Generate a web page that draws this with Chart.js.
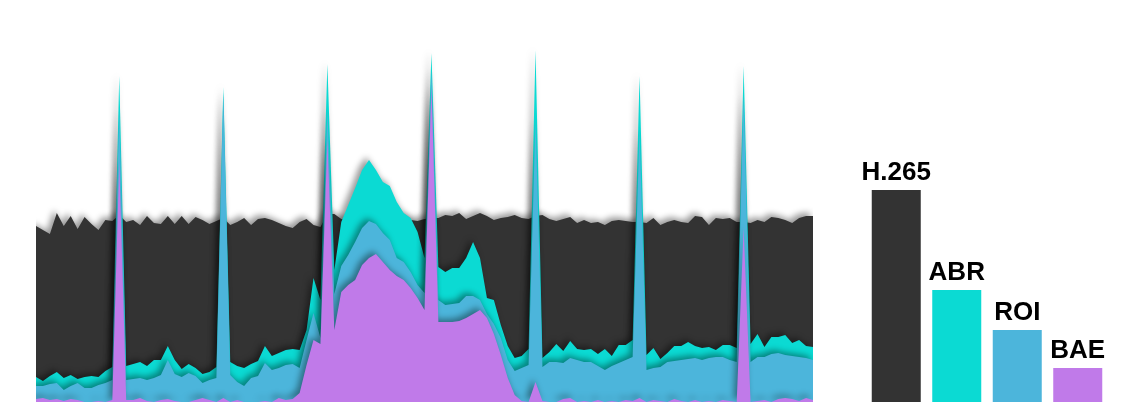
<!DOCTYPE html>
<html>
<head>
<meta charset="utf-8">
<script src="https://cdn.jsdelivr.net/npm/chart.js@4.4.0/dist/chart.umd.min.js"></script>
<style>
  body { margin: 0; background: #fff; }
  #wrap { position: relative; width: 1126px; height: 402px; overflow: hidden; }
  #area-box { position: absolute; left: 0; top: 0; }
  #bar-box { position: absolute; left: 846px; top: 0; }
</style>
</head>
<body>
<div id="wrap">
  <div id="area-box"><canvas id="area-chart" width="830" height="402"></canvas></div>
  <div id="bar-box"><canvas id="bar-chart" width="282" height="402"></canvas></div>
</div>
<script>
// frame-by-frame bits (arbitrary units), one value per frame
let frames = [];
for (let i = 0; i < 113; i++) frames.push(i);

let h265 = [176,172,168,189,176,186,173,185,178,172,
            182,181,187,180,182,177,186,179,178,186,
            178,186,178,185,182,178,181,184,177,180,
            184,177,183,184,182,179,176,174,180,183,
            177,175,188,188,183,182,184,182,185,183,
            181,184,182,183,182,181,183,184,184,187,
            186,189,183,186,189,186,182,184,185,187,
            184,183,186,187,183,181,183,185,179,182,
            179,180,177,181,182,181,180,180,179,184,
            177,180,182,180,179,186,185,177,184,183,
            184,180,180,179,182,180,185,184,182,179,
            184,186,186];
let abr = [25,21,26,30,24,27,23,25,26,25,
           31,35,326,36,38,40,36,42,42,56,
           42,33,38,34,28,30,35,315,40,36,
           34,38,41,56,46,49,52,53,52,72,
           124,102,338,132,180,197,214,232,242,232,
           220,216,200,189,184,170,144,349,135,130,
           134,134,144,160,144,104,102,77,56,44,
           46,53,352,44,50,58,51,61,53,52,
           53,48,53,46,57,57,62,326,47,54,
           43,49,56,56,60,56,54,55,52,57,
           57,54,336,58,68,55,65,65,67,59,
           62,56,55];
let roi = [16,16,18,19,12,16,19,14,14,17,
           19,22,292,22,23,24,22,24,27,42,
           28,25,29,26,19,22,24,309,27,20,
           16,24,26,39,32,34,37,38,34,62,
           89,64,292,108,136,147,160,174,181,178,
           169,162,144,140,130,117,109,332,102,97,
           98,99,106,106,102,88,78,64,42,31,
           34,37,282,35,40,40,39,44,42,40,
           40,36,32,36,39,42,45,272,32,34,
           35,40,41,42,43,44,42,44,45,45,
           42,40,307,40,45,45,48,49,47,46,
           45,44,42];
let bae = [3,4,2,3,1,3,2,0,0,1,
           0,2,240,2,2,4,1,0,2,3,
           1,0,0,2,4,2,0,4,0,2,
           0,0,0,1,0,4,2,3,9,37,
           62,58,262,72,110,117,122,137,144,148,
           140,132,126,122,114,104,92,314,80,80,
           80,81,84,88,92,84,68,47,24,7,
           1,0,20,1,0,0,3,4,0,1,
           0,2,0,1,0,2,1,4,0,2,
           1,0,3,1,0,2,0,1,0,2,
           1,0,174,0,1,2,0,3,4,3,
           1,4,2];

let methods = ['H.265', 'ABR', 'ROI', 'BAE'];
let averages = [212, 112, 72, 34];
let colors = ['#333333', '#0bdad3', '#4cb5db', '#c07ae9'];

function points(values) {
    return frames.map((f, i) => ({ x: f, y: values[i] }));
}

// soft drop shadow behind every filled area
const areaShadow = {
    id: 'areaShadow',
    beforeDatasetsDraw(chart) {
        const ctx = chart.ctx;
        ctx.save();
        ctx.shadowColor = 'rgba(0,0,0,0.4)';
        ctx.shadowBlur = 6;
        ctx.shadowOffsetX = -3;
        ctx.shadowOffsetY = -3;
    },
    afterDatasetsDraw(chart) {
        chart.ctx.restore();
    }
};

const series = [h265, abr, roi, bae];
new Chart('area-chart', {
    type: 'line',
    data: {
        datasets: series.map((s, k) => ({
            label: methods[k],
            data: points(s),
            backgroundColor: colors[k],
            borderColor: 'rgba(0,0,0,0)',
            borderWidth: 0,
            pointRadius: 0,
            tension: 0,
            fill: 'origin',
            order: 4 - k
        }))
    },
    options: {
        responsive: false,
        animation: false,
        layout: { padding: { left: 0, right: 17, top: 0, bottom: 0 } },
        plugins: { legend: { display: false }, tooltip: { enabled: false } },
        scales: {
            x: { type: 'linear', display: false, min: -5.19, max: 112 },
            y: { display: false, min: 0, max: 402 }
        }
    },
    plugins: [areaShadow]
});

const barLabels = {
    id: 'barLabels',
    afterDatasetsDraw(chart) {
        const ctx = chart.ctx;
        const meta = chart.getDatasetMeta(0);
        ctx.save();
        ctx.font = 'bold 26px "Liberation Sans", Arial, sans-serif';
        ctx.fillStyle = '#000';
        ctx.textAlign = 'center';
        ctx.textBaseline = 'alphabetic';
        meta.data.forEach((bar, i) => {
            ctx.fillText(chart.data.labels[i], bar.x, bar.y - 10);
        });
        ctx.restore();
    }
};

new Chart('bar-chart', {
    type: 'bar',
    data: {
        labels: methods,
        datasets: [{
            data: averages,
            backgroundColor: colors,
            borderWidth: 0,
            barPercentage: 0.81,
            categoryPercentage: 1
        }]
    },
    options: {
        responsive: false,
        animation: false,
        layout: { padding: { left: 20, right: 20, top: 0, bottom: 0 } },
        plugins: { legend: { display: false }, tooltip: { enabled: false } },
        scales: {
            x: { display: false },
            y: { display: false, min: 0, max: 402 }
        }
    },
    plugins: [barLabels]
});
</script>
</body>
</html>
